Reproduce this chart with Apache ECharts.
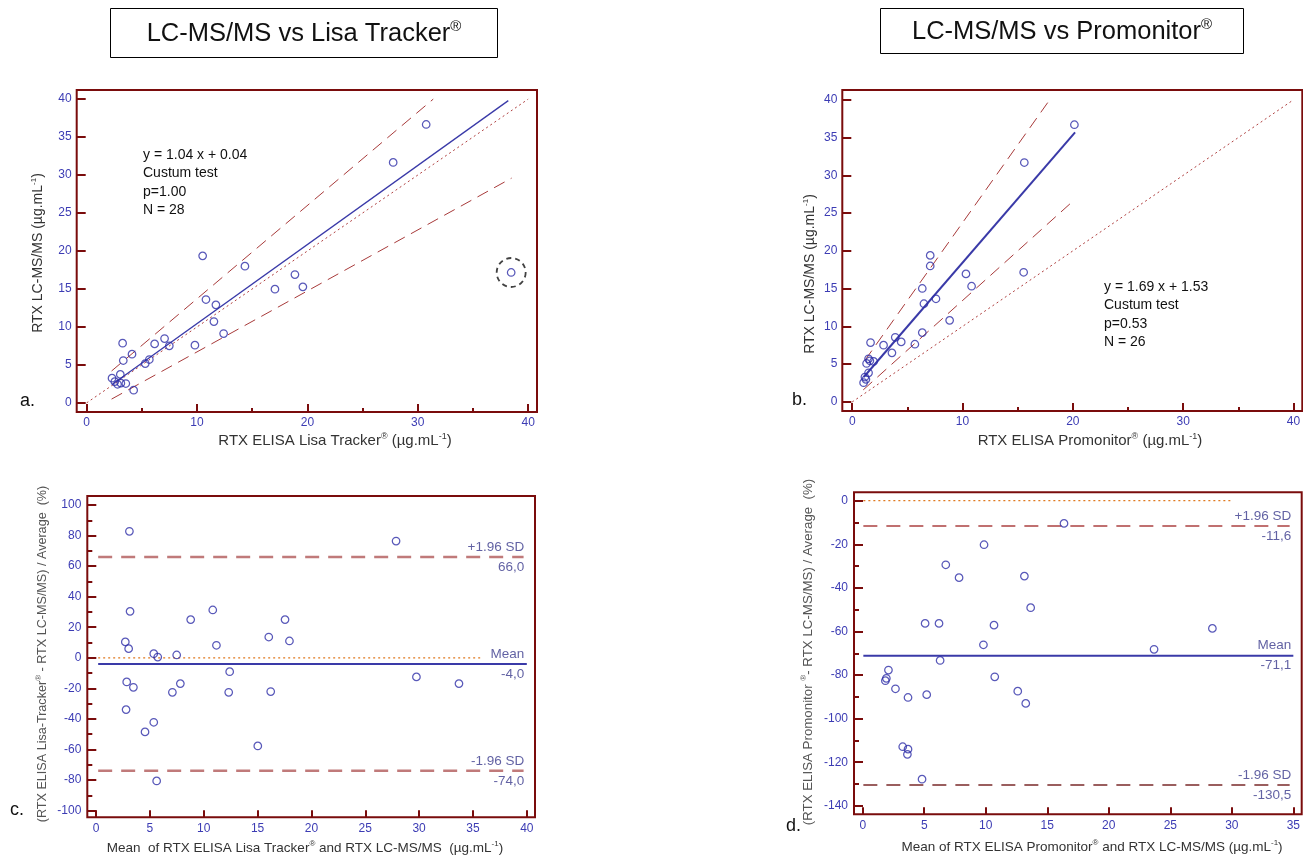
<!DOCTYPE html>
<html><head><meta charset="utf-8">
<script src="https://cdn.jsdelivr.net/npm/echarts@6/dist/echarts.min.js"></script>
<style>html,body{margin:0;padding:0;background:#fff}#c{width:1303px;height:859px}</style>
</head><body><div id="c"></div>
<script>
// ---------- DATA ----------
// Panel a: RTX ELISA Lisa Tracker (x) vs RTX LC-MS/MS (y)
const aX = [30.76, 27.77, 38.46, 10.51, 14.34, 18.87, 17.06, 19.59, 10.81, 11.71, 11.53, 12.41, 9.81, 7.06, 7.49, 6.16, 3.26, 4.11, 3.32, 5.31, 5.68, 2.30, 3.05, 2.55, 2.80, 3.10, 3.55, 4.26];
const aY = [36.66, 31.66, 17.17, 19.36, 18.00, 16.90, 14.97, 15.28, 13.61, 12.91, 10.71, 9.13, 7.60, 8.47, 7.51, 7.77, 7.86, 6.41, 5.58, 5.18, 5.71, 3.25, 3.75, 2.80, 2.45, 2.60, 2.55, 1.67];
const aOutlierIndex = 2;
const aRegLine = [[2.3, 2.43], [38.2, 39.8]];
const aUpperBand = [[2.26, 4.2], [31.4, 40.0]];
const aLowerBand = [[2.26, 0.5], [38.5, 29.6]];
const aText = ['y = 1.04 x + 0.04', 'Custum test', 'p=1.00', 'N = 28'];

// Panel b: RTX ELISA Promonitor (x) vs RTX LC-MS/MS (y)
const bX = [20.14, 15.60, 15.54, 7.07, 7.07, 10.31, 10.82, 6.35, 6.50, 7.59, 8.83, 6.35, 5.68, 3.90, 4.44, 2.84, 3.60, 1.66, 1.48, 1.30, 1.94, 1.48, 1.24, 1.03, 1.60, 1.15];
const bY = [36.70, 31.70, 17.17, 19.40, 18.00, 16.95, 15.32, 15.02, 13.00, 13.66, 10.80, 9.18, 7.64, 8.56, 7.95, 7.51, 6.50, 7.86, 5.71, 5.09, 5.36, 3.86, 2.99, 2.55, 5.45, 3.30];
const bRegLine = [[1.05, 3.3], [20.2, 35.7]];
const bUpperBand = [[1.15, 5.5], [17.9, 40.0]];
const bLowerBand = [[1.0, 1.6], [20.1, 26.7]];
const bText = ['y = 1.69 x + 1.53', 'Custum test', 'p=0.53', 'N = 26'];

const identityLine = [[0, 0], [40, 40]];

// Panel c: Bland-Altman Lisa Tracker
const cMeanX = [3.10, 27.86, 3.16, 8.79, 10.84, 17.55, 16.04, 17.96, 11.18, 2.72, 3.03, 5.36, 5.73, 7.49, 12.41, 2.85, 3.47, 7.83, 7.09, 12.32, 16.22, 29.75, 33.70, 2.79, 5.36, 4.55, 15.02, 5.63];
const cDiff  = [82.8, 76.4, 30.4, 25.0, 31.3, 25.0, 13.6, 11.0, 8.2, 10.4, 6.0, 2.7, 0.5, 1.85, -9.1, -15.8, -19.3, -16.9, -22.6, -22.6, -22.1, -12.5, -16.9, -33.9, -42.2, -48.5, -57.7, -80.6];
const cMean = -4.0, cUpper = 66.0, cLower = -74.0;
const cLimitX = [0.2, 39.7], cMeanLineX = [0.2, 40.0], cZeroX = [0.2, 35.7], cLabelX = 39.8;

// Panel d: Bland-Altman Promonitor
const dMeanX = [16.36, 9.86, 6.75, 7.83, 13.14, 13.65, 5.07, 6.20, 10.67, 28.42, 9.81, 23.68, 6.29, 2.09, 1.92, 1.84, 10.73, 2.66, 12.60, 3.68, 5.20, 13.25, 3.25, 3.68, 3.63, 4.82];
const dDiff  = [-10.4, -20.2, -29.4, -35.3, -34.6, -49.1, -56.3, -56.3, -57.1, -58.6, -66.1, -68.2, -73.3, -77.7, -81.5, -82.6, -80.8, -86.3, -87.4, -90.3, -89.0, -93.0, -112.9, -114.0, -116.4, -127.8];
const dMean = -71.1, dUpper = -11.6, dLower = -130.5;
const dLimitX = [0.05, 34.7], dMeanLineX = [0.05, 35.0], dZeroX = [0.05, 30.1], dLabelX = 34.87;

// Tick values
const abXTicks = [0, 10, 20, 30, 40];
const abXMinor = [5, 15, 25, 35];
const abYTicks = [0, 5, 10, 15, 20, 25, 30, 35, 40];
const cXTicks = [0, 5, 10, 15, 20, 25, 30, 35, 40];
const cYTicks = [-100, -80, -60, -40, -20, 0, 20, 40, 60, 80, 100];
const cYMinor = [-90, -70, -50, -30, -10, 10, 30, 50, 70, 90];
const dXTicks = [0, 5, 10, 15, 20, 25, 30, 35];
const dYTicks = [-140, -120, -100, -80, -60, -40, -20, 0];
const dYMinor = [-130, -110, -90, -70, -50, -30, -10];

// ---------- STYLE ----------
const FONT = 'Arial, "Liberation Sans", Helvetica, sans-serif';
const FRAME = '#7a0c0c';
const TICKC = '#3c3cb4';
const PT = '#2e2ea8';
const BLUE = '#3a3aa8';
const BAND = '#a83a3a';
const LABC = '#3a3a8c';

function pairs(xs, ys) { return xs.map((x, i) => [x, ys[i]]); }
function fmt(v) { return v.toFixed(1).replace('.', ','); }

const chart = echarts.init(document.getElementById('c'), null, { renderer: 'canvas' });

const grids = [
  { left: 76.7, top: 90, width: 460.3, height: 322 },
  { left: 842.3, top: 90, width: 460, height: 321 },
  { left: 87.3, top: 496, width: 447.7, height: 321.3 },
  { left: 854, top: 492.3, width: 447.7, height: 322 }
].map(g => Object.assign(g, { show: true, borderColor: FRAME, borderWidth: 2, backgroundColor: 'transparent', containLabel: false, outerBoundsMode: 'none' }));

function mainAxis(gi, pos, min, max, vals, tickLen, margin) {
  return {
    type: 'value', gridIndex: gi, position: pos, min: min, max: max,
    axisLine: { show: false, onZero: false }, splitLine: { show: false },
    axisTick: { show: true, inside: true, length: tickLen, customValues: vals, lineStyle: { color: FRAME, width: 2 } },
    axisLabel: { show: true, customValues: vals, margin: margin, color: TICKC, fontSize: 12, fontFamily: FONT }
  };
}
function minorAxis(gi, pos, min, max, vals, tickLen) {
  return {
    type: 'value', gridIndex: gi, position: pos, min: min, max: max,
    axisLine: { show: false, onZero: false }, splitLine: { show: false },
    axisTick: { show: true, inside: true, length: tickLen, customValues: vals, lineStyle: { color: FRAME, width: 2 } },
    axisLabel: { show: false }
  };
}

const xAxes = [
  mainAxis(0, 'bottom', -0.9, 40.8, abXTicks, 8, 5),   // 0
  minorAxis(0, 'bottom', -0.9, 40.8, abXMinor, 4),      // 1
  mainAxis(1, 'bottom', -0.9, 40.8, abXTicks, 8, 5),    // 2
  minorAxis(1, 'bottom', -0.9, 40.8, abXMinor, 4),      // 3
  mainAxis(2, 'bottom', -0.81, 40.76, cXTicks, 7, 5),   // 4
  mainAxis(3, 'bottom', -0.71, 35.68, dXTicks, 7, 5)    // 5
];
const yAxes = [
  mainAxis(0, 'left', -1.2, 41.2, abYTicks, 9, 5),    // 0
  mainAxis(1, 'left', -1.2, 41.3, abYTicks, 9, 5),    // 1
  mainAxis(2, 'left', -104.4, 105.9, cYTicks, 9, 6),  // 2
  minorAxis(2, 'left', -104.4, 105.9, cYMinor, 5),    // 3
  mainAxis(3, 'left', -143.9, 3.86, dYTicks, 9, 6),   // 4
  minorAxis(3, 'left', -143.9, 3.86, dYMinor, 5)      // 5
];

function lineSeries(xi, yi, data, color, width, type, z) {
  return { type: 'line', xAxisIndex: xi, yAxisIndex: yi, data: data, symbol: 'none', showSymbol: false, silent: true,
    lineStyle: { color: color, width: width, type: type }, z: z || 2 };
}
function pointSeries(xi, yi, data) {
  return { type: 'scatter', xAxisIndex: xi, yAxisIndex: yi, data: data, symbol: 'circle', symbolSize: 7.5,
    itemStyle: { color: 'rgba(255,255,255,0)', borderColor: PT, borderWidth: 1.25 }, z: 5 };
}
function labelSeries(xi, yi, x, y, top, bottom) {
  return { type: 'scatter', xAxisIndex: xi, yAxisIndex: yi, data: [[x, y]], symbolSize: 1, silent: true,
    itemStyle: { color: 'rgba(0,0,0,0)' }, z: 6,
    label: { show: true, position: 'left', distance: 0, formatter: top + '\n' + bottom, lineHeight: 20,
      color: LABC, fontSize: 13.5, fontFamily: FONT, align: 'right' } };
}

const series = [
  // panel a
  lineSeries(0, 0, identityLine, '#b04040', 1, [2, 3]),
  lineSeries(0, 0, aUpperBand, BAND, 1, [12, 7]),
  lineSeries(0, 0, aLowerBand, BAND, 1, [12, 7]),
  lineSeries(0, 0, aRegLine, BLUE, 1.3, 'solid', 3),
  pointSeries(0, 0, pairs(aX, aY)),
  { type: 'scatter', xAxisIndex: 0, yAxisIndex: 0, data: [[aX[aOutlierIndex], aY[aOutlierIndex]]], symbol: 'circle', symbolSize: 29, silent: true,
    itemStyle: { color: 'rgba(0,0,0,0)', borderColor: '#111', borderWidth: 1.8, borderType: [5, 4] }, z: 6 },
  // panel b
  lineSeries(2, 1, identityLine, '#b04040', 1, [2, 3]),
  lineSeries(2, 1, bUpperBand, BAND, 1, [12, 7]),
  lineSeries(2, 1, bLowerBand, BAND, 1, [12, 7]),
  lineSeries(2, 1, bRegLine, BLUE, 2, 'solid', 3),
  pointSeries(2, 1, pairs(bX, bY)),
  // panel c
  lineSeries(4, 2, [[cZeroX[0], 0], [cZeroX[1], 0]], '#e07a20', 1.2, [2, 3]),
  lineSeries(4, 2, [[cLimitX[0], cUpper], [cLimitX[1], cUpper]], '#c07a7a', 2.5, [14, 9]),
  lineSeries(4, 2, [[cLimitX[0], cLower], [cLimitX[1], cLower]], '#c07a7a', 2.5, [14, 9]),
  lineSeries(4, 2, [[cMeanLineX[0], cMean], [cMeanLineX[1], cMean]], BLUE, 2, 'solid'),
  pointSeries(4, 2, pairs(cMeanX, cDiff)),
  labelSeries(4, 2, cLabelX, cUpper, '+1.96 SD', fmt(cUpper)),
  labelSeries(4, 2, cLabelX, cMean, 'Mean', fmt(cMean)),
  labelSeries(4, 2, cLabelX, cLower, '-1.96 SD', fmt(cLower)),
  // panel d
  lineSeries(5, 4, [[dZeroX[0], 0], [dZeroX[1], 0]], '#e07a20', 1.2, [2, 3]),
  lineSeries(5, 4, [[dLimitX[0], dUpper], [dLimitX[1], dUpper]], '#c07070', 2, [14, 9]),
  lineSeries(5, 4, [[dLimitX[0], dLower], [dLimitX[1], dLower]], '#7a2a2a', 1.5, [14, 9]),
  lineSeries(5, 4, [[dMeanLineX[0], dMean], [dMeanLineX[1], dMean]], BLUE, 2, 'solid'),
  pointSeries(5, 4, pairs(dMeanX, dDiff)),
  labelSeries(5, 4, dLabelX, dUpper, '+1.96 SD', fmt(dUpper)),
  labelSeries(5, 4, dLabelX, dMean, 'Mean', fmt(dMean)),
  labelSeries(5, 4, dLabelX, dLower, '-1.96 SD', fmt(dLower))
];

// ---------- TEXT ----------
function richText(text, x, y, size, color, rot) {
  return { type: 'text', x: x, y: y, rotation: rot || 0, silent: true, z: 10,
    style: { text: text, align: 'center', verticalAlign: 'middle',
      rich: {
        n: { fontSize: size, fontFamily: FONT, fill: color, lineHeight: size + 3 },
        s: { fontSize: Math.round(size * 0.6), fontFamily: FONT, fill: color, lineHeight: Math.round(size * 0.6) + 1, verticalAlign: 'top' }
      } } };
}
function titleBox(x, y, w, h, text) {
  return { type: 'group', children: [
    { type: 'rect', shape: { x: x, y: y, width: w, height: h }, style: { fill: '#fff', stroke: '#000', lineWidth: 1 } },
    { type: 'text', x: x + w / 2, y: y + h / 2 + 1, style: { text: text, align: 'center', verticalAlign: 'middle',
      rich: {
        m: { fontSize: 25.5, fontFamily: FONT, fill: '#111', lineHeight: 30 },
        s: { fontSize: 15, fontFamily: FONT, fill: '#111', lineHeight: 16, verticalAlign: 'top' }
      } } }
  ] };
}
function plainText(text, x, y, size, color) {
  return { type: 'text', x: x, y: y, silent: true, style: { text: text, font: size + 'px ' + FONT, fill: color, align: 'left', verticalAlign: 'middle' } };
}
function blockText(lines, x, y) {
  return { type: 'text', x: x, y: y, silent: true, style: { text: lines.join('\n'), font: '14px ' + FONT, fill: '#111', lineHeight: 18.3, align: 'left', verticalAlign: 'top' } };
}

const AX = '#333';
const graphics = [
  titleBox(110.5, 8.5, 387, 49, '{m|LC-MS/MS vs Lisa Tracker}{s|®}'),
  titleBox(880.5, 8.5, 363, 45, '{m|LC-MS/MS vs Promonitor}{s|®}'),
  blockText(aText, 143, 146),
  blockText(bText, 1104, 278),
  plainText('a.', 20, 401, 18, '#111'),
  plainText('b.', 792, 400, 18, '#111'),
  plainText('c.', 10, 810, 18, '#111'),
  plainText('d.', 786, 826, 18, '#111'),
  richText('{n|RTX LC-MS/MS (µg.mL}{s|-1}{n|)}', 38, 253, 14, AX, Math.PI / 2),
  richText('{n|RTX LC-MS/MS (µg.mL}{s|-1}{n|)}', 810, 274, 14, AX, Math.PI / 2),
  richText('{n|(RTX ELISA Lisa-Tracker}{s|®}{n| - RTX LC-MS/MS) / Average  (%)}', 43, 654, 12.6, '#555', Math.PI / 2),
  richText('{n|(RTX ELISA Promonitor }{s|®}{n|- RTX LC-MS/MS) / Average  (%)}', 808, 652, 13.3, '#555', Math.PI / 2),
  richText('{n|RTX ELISA Lisa Tracker}{s|®}{n| (µg.mL}{s|-1}{n|)}', 335, 441, 15, AX),
  richText('{n|RTX ELISA Promonitor}{s|®}{n| (µg.mL}{s|-1}{n|)}', 1090, 441, 15, AX),
  richText('{n|Mean  of RTX ELISA Lisa Tracker}{s|®}{n| and RTX LC-MS/MS  (µg.mL}{s|-1}{n|)}', 305, 848, 13.5, AX),
  richText('{n|Mean of RTX ELISA Promonitor}{s|®}{n| and RTX LC-MS/MS (µg.mL}{s|-1}{n|)}', 1092, 847, 13.5, AX)
];

chart.setOption({
  animation: false,
  backgroundColor: '#fff',
  grid: grids,
  xAxis: xAxes,
  yAxis: yAxes,
  series: series,
  graphic: graphics
});
</script>
</body></html>
